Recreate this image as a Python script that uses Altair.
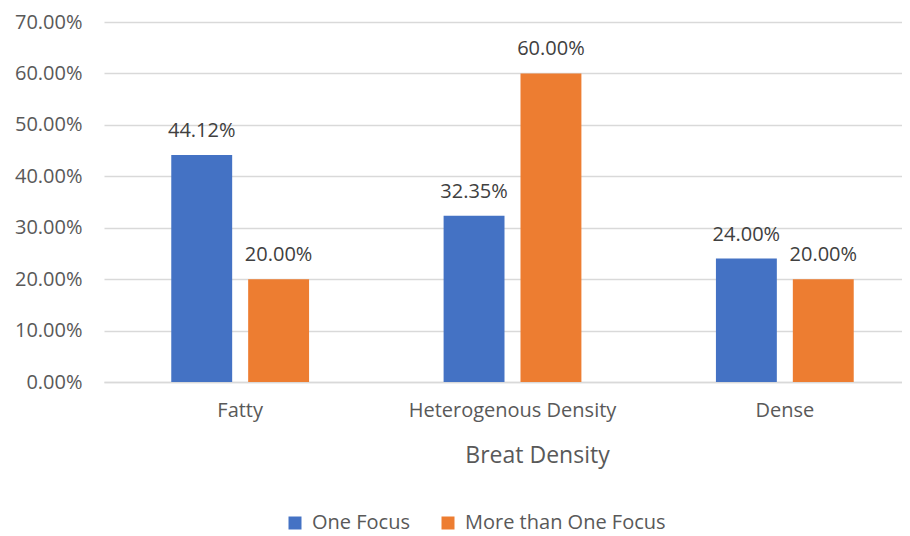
import altair as alt
import pandas as pd

categories = ["Fatty", "Heterogenous Density", "Dense"]
series = ["One Focus", "More than One Focus"]
one_focus = [0.4412, 0.3235, 0.24]
more_focus = [0.20, 0.60, 0.20]
colors = ["#4472C4", "#ED7D31"]

rows = []
for c, a, b in zip(categories, one_focus, more_focus):
    rows.append({"cat": c, "series": series[0], "val": a})
    rows.append({"cat": c, "series": series[1], "val": b})
df = pd.DataFrame(rows)

FONT = "Open Sans"
FS = 20

x = alt.X("cat:N", sort=categories,
          scale=alt.Scale(range=[0, 817], paddingInner=0.494, paddingOuter=0.247),
          axis=alt.Axis(title="Breat Density", labelAngle=0, ticks=False, labelLimit=0,
                        domainColor="#d9d9d9", domainWidth=1.5,
                        labelPadding=18, labelFontSize=FS, labelColor="#595959",
                        titleFontSize=23, titleColor="#595959", titleFontWeight="normal",
                        titlePadding=24, titleX=433, titleAnchor="middle",
                        labelFont=FONT, titleFont=FONT))
xo = alt.XOffset("series:N", sort=series, scale=alt.Scale(paddingInner=0.208, paddingOuter=0))
y = alt.Y("val:Q", scale=alt.Scale(domain=[0, 0.7]),
          axis=alt.Axis(title=None, format=".2%", values=[0, 0.1, 0.2, 0.3, 0.4, 0.5, 0.6, 0.7],
                        ticks=False, domain=False, gridColor="#d9d9d9", gridWidth=1.5,
                        labelPadding=22, labelFontSize=FS, labelColor="#595959", labelFont=FONT))

bars = alt.Chart(df).mark_bar().encode(
    x=x, xOffset=xo, y=y,
    color=alt.Color("series:N", sort=series,
                    scale=alt.Scale(domain=series, range=colors),
                    legend=alt.Legend(title=None, orient="none", direction="horizontal",
                                      legendX=181, legendY=491, padding=0, symbolType="square",
                                      symbolSize=169, symbolStrokeWidth=0, labelLimit=0,
                                      labelFontSize=FS, labelColor="#595959", labelFont=FONT,
                                      labelOffset=7, columnPadding=28)),
)

labels = alt.Chart(df).mark_text(baseline="bottom", dy=-14, fontSize=FS, font=FONT,
                                 color="#404040").encode(
    x=x, xOffset=xo, y=y,
    text=alt.Text("val:Q", format=".2%"),
)

chart = alt.layer(bars, labels).properties(
    width=798, height=360,
    autosize=alt.AutoSizeParams(type="none"),
    padding={"left": 96, "top": 14, "right": 0, "bottom": 152},
).configure_view(stroke=None)

chart.save("out.html", embed_options={"renderer": "svg", "actions": False})
